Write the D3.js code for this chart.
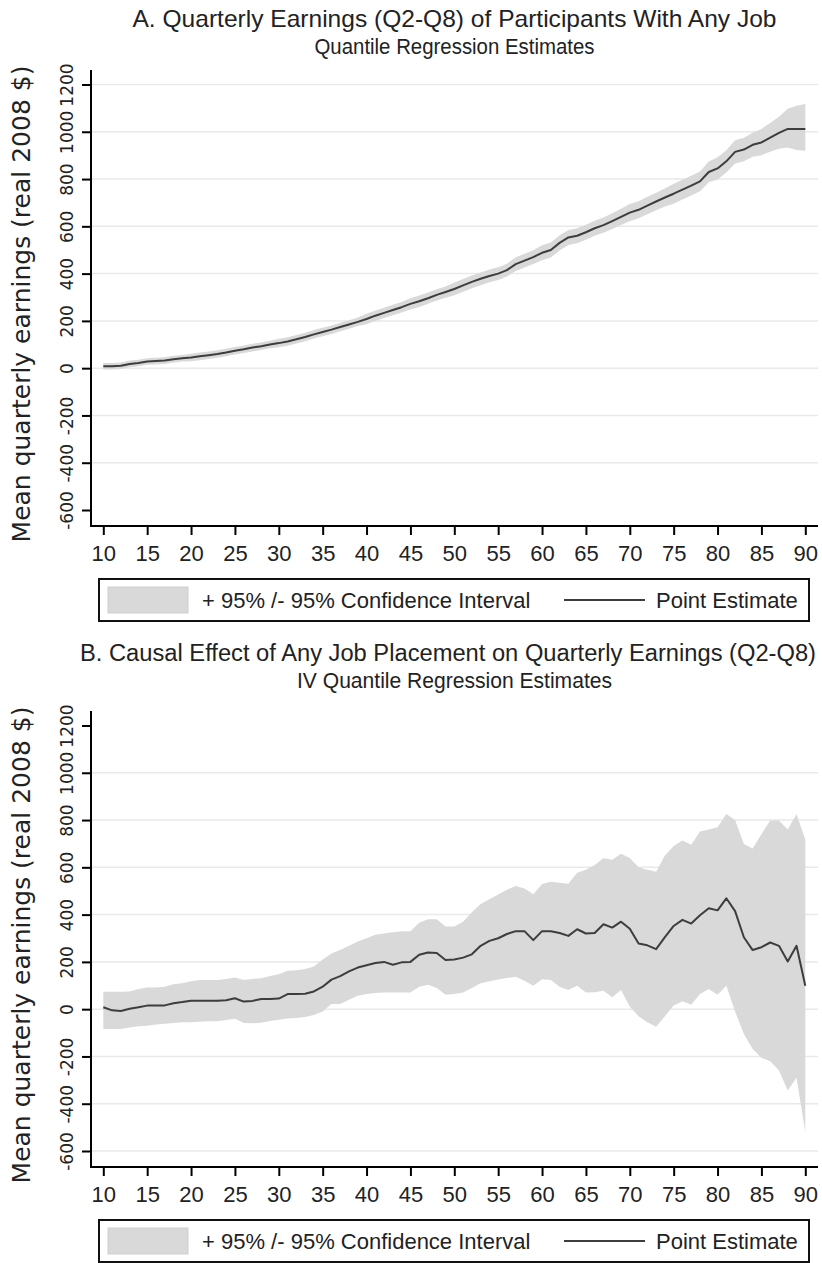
<!DOCTYPE html>
<html>
<head>
<meta charset="utf-8">
<script src="https://cdn.jsdelivr.net/npm/d3@7"></script>
<style>
  body { margin: 0; background: #fff; }
  svg { display: block; }
</style>
</head>
<body>
<svg id="chart"></svg>
<script>
// quantiles of the earnings distribution
const quantiles = [10, 11, 12, 13, 14, 15, 16, 17, 18, 19, 20, 21, 22, 23, 24, 25, 26, 27, 28, 29,
  30, 31, 32, 33, 34, 35, 36, 37, 38, 39, 40, 41, 42, 43, 44, 45, 46, 47, 48, 49,
  50, 51, 52, 53, 54, 55, 56, 57, 58, 59, 60, 61, 62, 63, 64, 65, 66, 67, 68, 69,
  70, 71, 72, 73, 74, 75, 76, 77, 78, 79, 80, 81, 82, 83, 84, 85, 86, 87, 88, 89, 90];

const xTicks = [10, 15, 20, 25, 30, 35, 40, 45, 50, 55, 60, 65, 70, 75, 80, 85, 90];
const yTicks = [-600, -400, -200, 0, 200, 400, 600, 800, 1000, 1200];

// panel A: quantile regression
const aPoint = [8, 8, 10, 18, 22, 28, 30, 32, 38, 42, 45, 50, 55, 60, 66, 74, 80, 87, 93, 100,
  106, 113, 122, 132, 143, 153, 163, 174, 185, 196, 208, 222, 234, 246, 258, 272, 283, 296, 310, 322,
  335, 350, 365, 378, 390, 400, 415, 440, 455, 470, 488, 500, 530, 553, 560, 575, 592, 605, 622, 640,
  658, 670, 688, 705, 722, 738, 755, 772, 790, 830, 845, 875, 915, 925, 945, 955, 975, 995, 1012, 1012, 1012];
const aLower = [-6, -6, -4, 4, 8, 14, 16, 18, 24, 28, 29, 34, 39, 44, 50, 58, 64, 71, 77, 84,
  88, 95, 104, 114, 125, 135, 145, 156, 167, 178, 186, 200, 212, 224, 236, 248, 259, 272, 286, 298,
  308, 323, 338, 351, 363, 373, 388, 411, 426, 441, 456, 468, 498, 521, 528, 543, 560, 573, 589, 606,
  622, 634, 651, 668, 684, 696, 713, 730, 748, 786, 798, 828, 866, 875, 894, 901, 916, 928, 933, 923, 920];
const aUpper = [22, 22, 24, 32, 36, 42, 44, 46, 52, 56, 61, 66, 71, 76, 82, 90, 96, 103, 109, 116,
  124, 131, 140, 150, 161, 171, 181, 192, 203, 214, 230, 244, 256, 268, 280, 296, 307, 320, 334, 346,
  362, 377, 392, 405, 417, 427, 442, 469, 484, 499, 520, 532, 562, 585, 592, 607, 624, 637, 655, 674,
  694, 706, 725, 742, 760, 780, 797, 814, 832, 874, 892, 922, 964, 975, 996, 1012, 1037, 1064, 1097, 1110, 1117];

// panel B: IV quantile regression
const bPoint = [8, -5, -8, 2, 8, 15, 15, 16, 25, 30, 36, 36, 36, 36, 38, 46, 32, 35, 43, 43,
  45, 64, 64, 65, 75, 95, 125, 140, 160, 176, 186, 195, 200, 188, 198, 200, 230, 240, 238, 208,
  210, 218, 232, 268, 289, 300, 318, 330, 330, 292, 330, 330, 322, 310, 338, 320, 322, 359, 345, 370,
  340, 278, 270, 254, 305, 352, 378, 362, 397, 427, 418, 469, 415, 304, 250, 262, 282, 268, 202, 268, 99];
const bLower = [-84, -84, -84, -78, -72, -70, -65, -62, -58, -55, -55, -53, -51, -51, -46, -41, -58, -60, -57, -50,
  -45, -40, -37, -33, -25, -10, 22, 22, 40, 57, 64, 68, 71, 71, 71, 71, 95, 103, 90, 61,
  64, 70, 90, 110, 118, 125, 132, 137, 120, 99, 127, 123, 95, 81, 99, 70, 72, 78, 50, 81,
  10, -30, -55, -74, -30, 15, 33, 19, 64, 85, 61, 99, -10, -105, -168, -206, -220, -259, -344, -290, -520];
const bUpper = [74, 74, 74, 75, 85, 92, 92, 95, 105, 110, 118, 123, 123, 123, 128, 134, 123, 128, 131, 140,
  148, 162, 165, 170, 180, 210, 235, 250, 268, 286, 300, 315, 320, 325, 330, 330, 366, 380, 380, 350,
  350, 370, 410, 445, 465, 485, 505, 521, 510, 486, 530, 539, 535, 531, 577, 590, 610, 638, 632, 657,
  640, 600, 590, 581, 650, 690, 713, 696, 752, 760, 770, 826, 800, 699, 680, 740, 798, 798, 760, 826, 718];

const W = 822, H = 1263;
const titleFont = '"Liberation Sans", Arial, sans-serif';
const axisFont = '"DejaVu Sans", Verdana, sans-serif';

const svg = d3.select('#chart').attr('width', W).attr('height', H);
svg.append('rect').attr('width', W).attr('height', H).attr('fill', '#fff');

const x = d3.scaleLinear().domain([10, 90]).range([103.3, 805.3]);
const y = d3.scaleLinear().domain([-600, 1200]).range([510, 84.5]);

function drawPanel(offsetY, titles, point, lower, upper, gridTicks) {
    const g = svg.append('g').attr('transform', `translate(0,${offsetY})`);

    // naslovi
    titles.forEach(t => {
        g.append('text')
            .attr('x', t.x)
            .attr('y', t.y)
            .attr('text-anchor', t.anchor)
            .attr('textLength', t.len)
            .attr('lengthAdjust', 'spacingAndGlyphs')
            .style('font-family', titleFont)
            .style('font-size', t.size)
            .attr('fill', '#222')
            .text(t.text);
    });

    g.selectAll('.grid')
        .data(gridTicks)
        .join('line')
        .attr('class', 'grid')
        .attr('x1', 92).attr('x2', 818)
        .attr('y1', d => y(d)).attr('y2', d => y(d))
        .attr('stroke', '#e9e9e9')
        .attr('stroke-width', 1.5);

    const rows = quantiles.map((q, i) => ({ q, p: point[i], lo: lower[i], hi: upper[i] }));

    g.append('path')
        .datum(rows)
        .attr('d', d3.area().x(d => x(d.q)).y0(d => y(d.lo)).y1(d => y(d.hi)))
        .attr('fill', '#d9d9d9');

    g.append('path')
        .datum(rows)
        .attr('d', d3.line().x(d => x(d.q)).y(d => y(d.p)))
        .attr('fill', 'none')
        .attr('stroke', '#3d3d3d')
        .attr('stroke-width', 2)
        .attr('stroke-linejoin', 'round');

    // y os
    const yAxis = g.append('g')
        .attr('transform', 'translate(91,0)')
        .call(d3.axisLeft(y).tickValues(yTicks).tickSize(9).tickFormat(d => String(d)));
    yAxis.select('.domain').remove();
    yAxis.selectAll('line').attr('stroke', '#000').attr('stroke-width', 2);
    yAxis.selectAll('text')
        .attr('x', 0).attr('dy', null).attr('y', -18)
        .attr('transform', 'rotate(-90)')
        .attr('text-anchor', 'middle')
        .attr('fill', '#222')
        .style('font-family', axisFont)
        .style('font-size', '17px');

    // x os
    const xAxis = g.append('g')
        .attr('transform', 'translate(0,526)')
        .call(d3.axisBottom(x).tickValues(xTicks).tickSize(9));
    xAxis.select('.domain').remove();
    xAxis.selectAll('line').attr('stroke', '#000').attr('stroke-width', 2);
    xAxis.selectAll('text')
        .attr('y', 35).attr('dy', null)
        .attr('fill', '#222')
        .style('font-family', titleFont)
        .style('font-size', '22px');

    g.append('line').attr('x1', 91).attr('x2', 91).attr('y1', 70).attr('y2', 527)
        .attr('stroke', '#000').attr('stroke-width', 2);
    g.append('line').attr('x1', 90).attr('x2', 818).attr('y1', 526).attr('y2', 526)
        .attr('stroke', '#000').attr('stroke-width', 2);

    g.append('text')
        .attr('transform', 'translate(30,304) rotate(-90)')
        .attr('text-anchor', 'middle')
        .attr('fill', '#222')
        .style('font-family', axisFont)
        .style('font-size', '25px')
        .text('Mean quarterly earnings (real 2008 $)');

    // legenda
    const leg = g.append('g');
    leg.append('rect')
        .attr('x', 99).attr('y', 579).attr('width', 710).attr('height', 42)
        .attr('fill', '#fff').attr('stroke', '#111').attr('stroke-width', 2);
    leg.append('rect')
        .attr('x', 108).attr('y', 587).attr('width', 80).attr('height', 26)
        .attr('fill', '#d9d9d9').attr('stroke', '#cfcfcf').attr('stroke-width', 1);
    leg.append('text')
        .attr('x', 202).attr('y', 608)
        .attr('fill', '#222')
        .style('font-family', titleFont)
        .style('font-size', '22px')
        .text('+ 95% /- 95% Confidence Interval');
    leg.append('line')
        .attr('x1', 564).attr('x2', 645).attr('y1', 600).attr('y2', 600)
        .attr('stroke', '#3d3d3d').attr('stroke-width', 2);
    leg.append('text')
        .attr('x', 656).attr('y', 608)
        .attr('fill', '#222')
        .style('font-family', titleFont)
        .style('font-size', '22px')
        .text('Point Estimate');
}

drawPanel(0, [
    { text: 'A. Quarterly Earnings (Q2-Q8) of Participants With Any Job', x: 454.5, anchor: 'middle', y: 27, len: 644, size: '24px' },
    { text: 'Quantile Regression Estimates', x: 454.5, anchor: 'middle', y: 54, len: 280, size: '22px' }
], aPoint, aLower, aUpper, [-400, -200, 0, 200, 400, 600, 800, 1000, 1200]);

drawPanel(641, [
    { text: 'B. Causal Effect of Any Job Placement on Quarterly Earnings (Q2-Q8)', x: 80, anchor: 'start', y: 20, len: 736, size: '23px' },
    { text: 'IV Quantile Regression Estimates', x: 454.5, anchor: 'middle', y: 47, len: 315, size: '22px' }
], bPoint, bLower, bUpper, [-600, -400, -200, 0, 200, 400, 600, 800, 1000]);
</script>
</body>
</html>
